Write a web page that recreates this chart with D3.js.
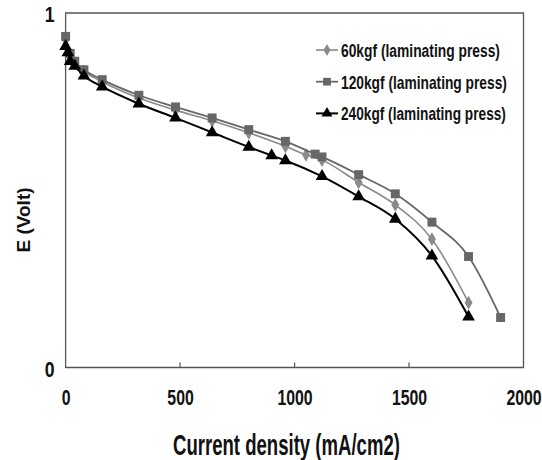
<!DOCTYPE html>
<html>
<head>
<meta charset="utf-8">
<script src="https://cdn.jsdelivr.net/npm/d3@7"></script>
<style>
  html, body { margin: 0; padding: 0; background: #fff; }
  svg { display: block; }
  .cond { font-family: "Liberation Sans", Arial, sans-serif; font-weight: bold; }
</style>
</head>
<body>
<svg id="chart" width="542" height="460"></svg>
<script>
// Polarization curves: cell voltage vs current density at three laminating pressures
const current60  = [0, 20, 40, 80, 160, 320, 480, 640, 800, 960, 1050, 1120, 1280, 1440, 1600, 1760];
const volt60     = [0.925, 0.878, 0.858, 0.835, 0.806, 0.760, 0.726, 0.696, 0.662, 0.624, 0.600, 0.585, 0.522, 0.459, 0.362, 0.183];

const current120 = [0, 20, 40, 80, 160, 320, 480, 640, 800, 960, 1090, 1120, 1280, 1440, 1600, 1760, 1900];
const volt120    = [0.934, 0.886, 0.864, 0.840, 0.812, 0.768, 0.735, 0.704, 0.671, 0.638, 0.602, 0.594, 0.544, 0.490, 0.410, 0.313, 0.141];

const current240 = [0, 10, 20, 40, 80, 160, 320, 480, 640, 800, 900, 960, 1120, 1280, 1440, 1600, 1760];
const volt240    = [0.906, 0.888, 0.864, 0.850, 0.823, 0.792, 0.744, 0.704, 0.663, 0.622, 0.598, 0.584, 0.539, 0.482, 0.419, 0.315, 0.143];

const seriesNames = ["60kgf (laminating press)", "120kgf (laminating press)", "240kgf (laminating press)"];
const xTicks = [0, 500, 1000, 1500, 2000];
const yTicks = [0, 1];

const svg = d3.select("#chart");
const plotL = 65.6, plotR = 523.5, plotT = 13, plotB = 367.5;

const x = d3.scaleLinear().domain([0, 2000]).range([plotL, plotR]);
const y = d3.scaleLinear().domain([0, 1]).range([plotB, plotT]);

// squeeze a text horizontally to a given width, anchored at its left end
function condense(sel, width) {
  const natural = sel.node().getComputedTextLength();
  const k = width / natural;
  const x0 = +sel.attr("x");
  sel.attr("transform", `translate(${x0},0) scale(${k},1) translate(${-x0},0)`);
}

// plot frame
svg.append("path")
  .attr("d", `M${plotL},${plotT}H${plotR}V${plotB}H${plotL}Z`)
  .attr("fill", "none").attr("stroke", "#555").attr("stroke-width", 1.3);

// x axis
const xAxis = d3.axisBottom(x).tickValues(xTicks).tickSize(0).tickFormat(d3.format("d"));
const gx = svg.append("g").attr("transform", `translate(0,${plotB})`).call(xAxis);
gx.select(".domain").remove();
gx.selectAll("text").attr("class", "cond").attr("font-size", 22).attr("fill", "#111")
  .attr("y", 30).attr("dy", "0.35em").attr("transform", "scale(0.72,1)");
// inner tick marks
svg.append("g").selectAll("line").data(xTicks.slice(1, -1)).join("line")
  .attr("x1", d => x(d)).attr("x2", d => x(d))
  .attr("y1", plotB).attr("y2", plotB - 5)
  .attr("stroke", "#555").attr("stroke-width", 1.2);

// y axis
const yAxis = d3.axisLeft(y).tickValues(yTicks).tickSize(0).tickFormat(d3.format("d"));
const gy = svg.append("g").attr("transform", `translate(${plotL},0)`).call(yAxis);
gy.select(".domain").remove();
gy.selectAll("text").attr("class", "cond").attr("font-size", 22).attr("fill", "#111")
  .attr("x", -16).attr("dy", "0.4em").attr("text-anchor", "middle")
  .attr("transform", "translate(-16,0) scale(0.8,1) translate(16,0)");

// axis titles
const xTitle = svg.append("text").attr("class", "cond")
  .attr("x", 173).attr("y", 455)
  .attr("font-size", 30).attr("fill", "#111")
  .text("Current density (mA/cm2)");
condense(xTitle, 227);

svg.append("text")
  .attr("transform", "translate(30,220) rotate(-90)")
  .attr("text-anchor", "middle")
  .attr("font-family", "Liberation Sans, Arial, sans-serif").attr("font-weight", "bold")
  .attr("font-size", 19).attr("fill", "#111")
  .text("E (Volt)");

// series
const series = [
  { name: seriesNames[0], xs: current60,  ys: volt60,  color: "#8a8a8a", width: 1.6, shape: d3.symbolDiamond, size: 55, tl: 159 },
  { name: seriesNames[1], xs: current120, ys: volt120, color: "#676767", width: 1.8, shape: d3.symbolSquare,  size: 80, tl: 166 },
  { name: seriesNames[2], xs: current240, ys: volt240, color: "#000000", width: 2.0, shape: d3.symbolTriangle, size: 70, tl: 165 }
];

const line = d3.line().x(d => x(d[0])).y(d => y(d[1])).curve(d3.curveMonotoneX);

series.forEach(s => {
  const pts = s.xs.map((v, i) => [v, s.ys[i]]);
  svg.append("path").datum(pts)
    .attr("d", line).attr("fill", "none")
    .attr("stroke", s.color).attr("stroke-width", s.width);
  svg.append("g").selectAll("path").data(pts).join("path")
    .attr("transform", d => `translate(${x(d[0])},${y(d[1])})`)
    .attr("d", d3.symbol().type(s.shape).size(s.size))
    .attr("fill", s.color);
});

// legend
const legend = svg.append("g");
series.forEach((s, i) => {
  const ly = 50 + i * 31.7;
  legend.append("line").attr("x1", 316).attr("x2", 338).attr("y1", ly).attr("y2", ly)
    .attr("stroke", s.color).attr("stroke-width", s.width);
  legend.append("path").attr("transform", `translate(327,${ly})`)
    .attr("d", d3.symbol().type(s.shape).size(s.size * 0.75)).attr("fill", s.color);
  const t = legend.append("text").attr("class", "cond")
    .attr("x", 341).attr("y", ly).attr("dy", "0.36em")
    .attr("font-size", 19).attr("fill", "#111")
    .text(s.name);
  condense(t, s.tl);
});
</script>
</body>
</html>
